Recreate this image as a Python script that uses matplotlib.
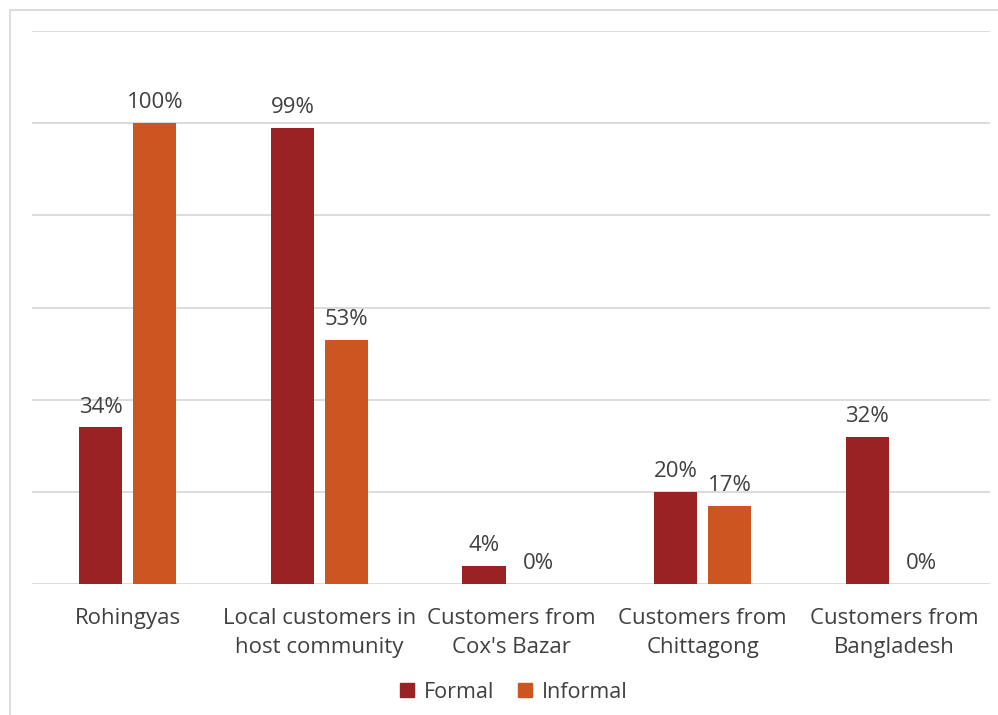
import matplotlib

matplotlib.use("Agg")
import matplotlib.pyplot as plt
from matplotlib.lines import Line2D
from matplotlib.patches import Patch
import numpy as np

categories = ["Rohingyas", "Local customers in\nhost community",
              "Customers from\nCox's Bazar", "Customers from\nChittagong",
              "Customers from\nBangladesh"]
formal = [34, 99, 4, 20, 32]
informal = [100, 53, 0, 17, 0]

FORMAL_C = "#9A2124"
INFORMAL_C = "#CD5521"
TEXT_C = "#404040"
GRID_C = "#D9D9D9"

plt.rcParams["font.family"] = ["Open Sans", "DejaVu Sans"]

fig = plt.figure(figsize=(9.98, 7.15), dpi=100)
ax = fig.add_axes([32 / 998, 131 / 715, 958 / 998, 553 / 715])

x = np.arange(len(categories))
w = 0.225
off = 0.141
b1 = ax.bar(x - off, formal, w, color=FORMAL_C, label="Formal")
b2 = ax.bar(x + off, informal, w, color=INFORMAL_C, label="Informal")

for bars, vals in ((b1, formal), (b2, informal)):
    for rect, v in zip(bars, vals):
        ax.annotate(f"{v}%", (rect.get_x() + rect.get_width() / 2, v),
                    xytext=(0, 7), textcoords="offset points",
                    ha="center", va="bottom", fontsize=16, color=TEXT_C)

ax.set_xlim(-0.5, len(categories) - 0.5)
ax.set_ylim(0, 120)
ax.set_yticks(np.arange(0, 121, 20))
ax.yaxis.grid(True, color=GRID_C, linewidth=1.3)
ax.set_axisbelow(True)
ax.tick_params(axis="y", length=0, labelleft=False)
ax.tick_params(axis="x", length=0, pad=17, labelsize=16, labelcolor=TEXT_C)
ax.set_xticks(x)
ax.set_xticklabels(categories, linespacing=1.55)
for s in ax.spines.values():
    s.set_visible(False)

handles = [Patch(color=FORMAL_C), Patch(color=INFORMAL_C)]
fig.legend(handles, ["Formal", "Informal"], loc="center",
           bbox_to_anchor=(514 / 998, 1 - 692 / 715), ncol=2, frameon=False,
           fontsize=15.5, labelcolor=TEXT_C, handlelength=0.65,
           handleheight=0.65, handletextpad=0.45, columnspacing=1.1)

# outer chart frame
fig.add_artist(Line2D([10 / 998, 10 / 998], [0, 1 - 10 / 715],
                      color=GRID_C, linewidth=1.3))
fig.add_artist(Line2D([10 / 998, 1], [1 - 10 / 715, 1 - 10 / 715],
                      color=GRID_C, linewidth=1.3))

fig.savefig("out.png", dpi=100)
